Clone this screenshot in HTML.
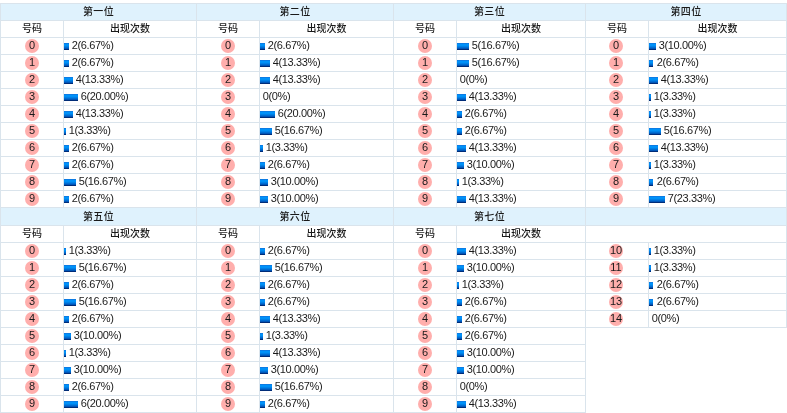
<!DOCTYPE html>
<html lang="zh-CN">
<head>
<meta charset="utf-8">
<title>号码出现次数统计</title>
<style>
html,body{margin:0;padding:0;background:#fff;}
body{width:787px;height:413px;overflow:hidden;font-family:"Liberation Sans","Noto Sans CJK SC",sans-serif;font-size:10px;color:#1a1a1a;}
table.stat{border-collapse:separate;border-spacing:0;table-layout:fixed;width:787px;margin:3px 0 0 0;border-top:1px solid #dae4ec;border-left:1px solid #dae4ec;}
col.c1{width:63px}col.c2{width:133px}col.c4{width:134px}col.c6{width:129px}col.c8{width:138px}
td,th{box-sizing:border-box;height:17px;padding:0;border-right:1px solid #dae4ec;border-bottom:1px solid #dae4ec;font-weight:normal;white-space:nowrap;overflow:hidden;vertical-align:top;}
.c{height:16px;line-height:15px;overflow:hidden;}
tr.t th{background:#dff2fd;text-align:center;letter-spacing:0.35px;}
tr.t2 th{height:18px;}
tr.t2 .c{height:17px;line-height:17px;}
td.hn,td.hv{text-align:center;}
td.n{text-align:center;font-size:11px;}
td.v{text-align:left;font-size:11px;letter-spacing:-0.36px;}
td.v .c{line-height:14px;}
td.e{border:0;}
.b{display:block;width:14px;height:14px;line-height:12px;margin:1px auto 0;border-radius:50%;background:#ffaeac;text-align:center;}
.bar{display:inline-block;height:7px;vertical-align:-1px;background:linear-gradient(to bottom,#0c7ce4 7.14%,#0092fa 21.43%,#0090f6 35.71%,#0080e6 50.00%,#006cd2 64.29%,#0056b8 78.57%,#002c78 92.86%);}
td.s4 .b{position:relative;left:-1px;}
td.hn,td.hv,tr.t th{font-weight:500;}
</style>
</head>
<body>
<table class="stat" cellspacing="0" cellpadding="0">
<colgroup><col class="c1"><col class="c2"><col class="c1"><col class="c4"><col class="c1"><col class="c6"><col class="c1"><col class="c8"></colgroup>
<tr class="t"><th colspan="2"><div class="c">第一位</div></th><th colspan="2"><div class="c">第二位</div></th><th colspan="2"><div class="c">第三位</div></th><th colspan="2"><div class="c">第四位</div></th></tr>
<tr class="h"><td class="hn"><div class="c">号码</div></td><td class="hv"><div class="c">出现次数</div></td><td class="hn"><div class="c">号码</div></td><td class="hv"><div class="c">出现次数</div></td><td class="hn"><div class="c">号码</div></td><td class="hv"><div class="c">出现次数</div></td><td class="hn"><div class="c">号码</div></td><td class="hv"><div class="c">出现次数</div></td></tr>
<tr><td class="n"><div class="c"><span class="b">0</span></div></td><td class="v"><div class="c"><i class="bar" style="width:5px"></i> 2(6.67%)</div></td><td class="n"><div class="c"><span class="b">0</span></div></td><td class="v"><div class="c"><i class="bar" style="width:5px"></i> 2(6.67%)</div></td><td class="n"><div class="c"><span class="b">0</span></div></td><td class="v"><div class="c"><i class="bar" style="width:12px"></i> 5(16.67%)</div></td><td class="n s4"><div class="c"><span class="b">0</span></div></td><td class="v"><div class="c"><i class="bar" style="width:7px"></i> 3(10.00%)</div></td></tr>
<tr><td class="n"><div class="c"><span class="b">1</span></div></td><td class="v"><div class="c"><i class="bar" style="width:5px"></i> 2(6.67%)</div></td><td class="n"><div class="c"><span class="b">1</span></div></td><td class="v"><div class="c"><i class="bar" style="width:10px"></i> 4(13.33%)</div></td><td class="n"><div class="c"><span class="b">1</span></div></td><td class="v"><div class="c"><i class="bar" style="width:12px"></i> 5(16.67%)</div></td><td class="n s4"><div class="c"><span class="b">1</span></div></td><td class="v"><div class="c"><i class="bar" style="width:4px;margin-right:1px"></i> 2(6.67%)</div></td></tr>
<tr><td class="n"><div class="c"><span class="b">2</span></div></td><td class="v"><div class="c"><i class="bar" style="width:9px"></i> 4(13.33%)</div></td><td class="n"><div class="c"><span class="b">2</span></div></td><td class="v"><div class="c"><i class="bar" style="width:10px"></i> 4(13.33%)</div></td><td class="n"><div class="c"><span class="b">2</span></div></td><td class="v"><div class="c"><i class="bar" style="width:0"></i> 0(0%)</div></td><td class="n s4"><div class="c"><span class="b">2</span></div></td><td class="v"><div class="c"><i class="bar" style="width:9px"></i> 4(13.33%)</div></td></tr>
<tr><td class="n"><div class="c"><span class="b">3</span></div></td><td class="v"><div class="c"><i class="bar" style="width:14px"></i> 6(20.00%)</div></td><td class="n"><div class="c"><span class="b">3</span></div></td><td class="v"><div class="c"><i class="bar" style="width:0"></i> 0(0%)</div></td><td class="n"><div class="c"><span class="b">3</span></div></td><td class="v"><div class="c"><i class="bar" style="width:9px"></i> 4(13.33%)</div></td><td class="n s4"><div class="c"><span class="b">3</span></div></td><td class="v"><div class="c"><i class="bar" style="width:2px"></i> 1(3.33%)</div></td></tr>
<tr><td class="n"><div class="c"><span class="b">4</span></div></td><td class="v"><div class="c"><i class="bar" style="width:9px"></i> 4(13.33%)</div></td><td class="n"><div class="c"><span class="b">4</span></div></td><td class="v"><div class="c"><i class="bar" style="width:15px"></i> 6(20.00%)</div></td><td class="n"><div class="c"><span class="b">4</span></div></td><td class="v"><div class="c"><i class="bar" style="width:5px"></i> 2(6.67%)</div></td><td class="n s4"><div class="c"><span class="b">4</span></div></td><td class="v"><div class="c"><i class="bar" style="width:2px"></i> 1(3.33%)</div></td></tr>
<tr><td class="n"><div class="c"><span class="b">5</span></div></td><td class="v"><div class="c"><i class="bar" style="width:2px"></i> 1(3.33%)</div></td><td class="n"><div class="c"><span class="b">5</span></div></td><td class="v"><div class="c"><i class="bar" style="width:12px"></i> 5(16.67%)</div></td><td class="n"><div class="c"><span class="b">5</span></div></td><td class="v"><div class="c"><i class="bar" style="width:5px"></i> 2(6.67%)</div></td><td class="n s4"><div class="c"><span class="b">5</span></div></td><td class="v"><div class="c"><i class="bar" style="width:12px"></i> 5(16.67%)</div></td></tr>
<tr><td class="n"><div class="c"><span class="b">6</span></div></td><td class="v"><div class="c"><i class="bar" style="width:5px"></i> 2(6.67%)</div></td><td class="n"><div class="c"><span class="b">6</span></div></td><td class="v"><div class="c"><i class="bar" style="width:3px"></i> 1(3.33%)</div></td><td class="n"><div class="c"><span class="b">6</span></div></td><td class="v"><div class="c"><i class="bar" style="width:9px"></i> 4(13.33%)</div></td><td class="n s4"><div class="c"><span class="b">6</span></div></td><td class="v"><div class="c"><i class="bar" style="width:9px"></i> 4(13.33%)</div></td></tr>
<tr><td class="n"><div class="c"><span class="b">7</span></div></td><td class="v"><div class="c"><i class="bar" style="width:5px"></i> 2(6.67%)</div></td><td class="n"><div class="c"><span class="b">7</span></div></td><td class="v"><div class="c"><i class="bar" style="width:5px"></i> 2(6.67%)</div></td><td class="n"><div class="c"><span class="b">7</span></div></td><td class="v"><div class="c"><i class="bar" style="width:7px"></i> 3(10.00%)</div></td><td class="n s4"><div class="c"><span class="b">7</span></div></td><td class="v"><div class="c"><i class="bar" style="width:2px"></i> 1(3.33%)</div></td></tr>
<tr><td class="n"><div class="c"><span class="b">8</span></div></td><td class="v"><div class="c"><i class="bar" style="width:12px"></i> 5(16.67%)</div></td><td class="n"><div class="c"><span class="b">8</span></div></td><td class="v"><div class="c"><i class="bar" style="width:8px"></i> 3(10.00%)</div></td><td class="n"><div class="c"><span class="b">8</span></div></td><td class="v"><div class="c"><i class="bar" style="width:2px"></i> 1(3.33%)</div></td><td class="n s4"><div class="c"><span class="b">8</span></div></td><td class="v"><div class="c"><i class="bar" style="width:4px;margin-right:1px"></i> 2(6.67%)</div></td></tr>
<tr><td class="n"><div class="c"><span class="b">9</span></div></td><td class="v"><div class="c"><i class="bar" style="width:5px"></i> 2(6.67%)</div></td><td class="n"><div class="c"><span class="b">9</span></div></td><td class="v"><div class="c"><i class="bar" style="width:8px"></i> 3(10.00%)</div></td><td class="n"><div class="c"><span class="b">9</span></div></td><td class="v"><div class="c"><i class="bar" style="width:9px"></i> 4(13.33%)</div></td><td class="n s4"><div class="c"><span class="b">9</span></div></td><td class="v"><div class="c"><i class="bar" style="width:16px"></i> 7(23.33%)</div></td></tr>
<tr class="t t2"><th colspan="2"><div class="c">第五位</div></th><th colspan="2"><div class="c">第六位</div></th><th colspan="2"><div class="c">第七位</div></th><th colspan="2"></th></tr>
<tr class="h"><td class="hn"><div class="c">号码</div></td><td class="hv"><div class="c">出现次数</div></td><td class="hn"><div class="c">号码</div></td><td class="hv"><div class="c">出现次数</div></td><td class="hn"><div class="c">号码</div></td><td class="hv"><div class="c">出现次数</div></td><td colspan="2" class="hv"></td></tr>
<tr><td class="n"><div class="c"><span class="b">0</span></div></td><td class="v"><div class="c"><i class="bar" style="width:2px"></i> 1(3.33%)</div></td><td class="n"><div class="c"><span class="b">0</span></div></td><td class="v"><div class="c"><i class="bar" style="width:5px"></i> 2(6.67%)</div></td><td class="n"><div class="c"><span class="b">0</span></div></td><td class="v"><div class="c"><i class="bar" style="width:9px"></i> 4(13.33%)</div></td><td class="n s4"><div class="c"><span class="b">10</span></div></td><td class="v"><div class="c"><i class="bar" style="width:2px"></i> 1(3.33%)</div></td></tr>
<tr><td class="n"><div class="c"><span class="b">1</span></div></td><td class="v"><div class="c"><i class="bar" style="width:12px"></i> 5(16.67%)</div></td><td class="n"><div class="c"><span class="b">1</span></div></td><td class="v"><div class="c"><i class="bar" style="width:12px"></i> 5(16.67%)</div></td><td class="n"><div class="c"><span class="b">1</span></div></td><td class="v"><div class="c"><i class="bar" style="width:7px"></i> 3(10.00%)</div></td><td class="n s4"><div class="c"><span class="b">11</span></div></td><td class="v"><div class="c"><i class="bar" style="width:2px"></i> 1(3.33%)</div></td></tr>
<tr><td class="n"><div class="c"><span class="b">2</span></div></td><td class="v"><div class="c"><i class="bar" style="width:5px"></i> 2(6.67%)</div></td><td class="n"><div class="c"><span class="b">2</span></div></td><td class="v"><div class="c"><i class="bar" style="width:5px"></i> 2(6.67%)</div></td><td class="n"><div class="c"><span class="b">2</span></div></td><td class="v"><div class="c"><i class="bar" style="width:2px"></i> 1(3.33%)</div></td><td class="n s4"><div class="c"><span class="b">12</span></div></td><td class="v"><div class="c"><i class="bar" style="width:4px;margin-right:1px"></i> 2(6.67%)</div></td></tr>
<tr><td class="n"><div class="c"><span class="b">3</span></div></td><td class="v"><div class="c"><i class="bar" style="width:12px"></i> 5(16.67%)</div></td><td class="n"><div class="c"><span class="b">3</span></div></td><td class="v"><div class="c"><i class="bar" style="width:5px"></i> 2(6.67%)</div></td><td class="n"><div class="c"><span class="b">3</span></div></td><td class="v"><div class="c"><i class="bar" style="width:5px"></i> 2(6.67%)</div></td><td class="n s4"><div class="c"><span class="b">13</span></div></td><td class="v"><div class="c"><i class="bar" style="width:4px;margin-right:1px"></i> 2(6.67%)</div></td></tr>
<tr><td class="n"><div class="c"><span class="b">4</span></div></td><td class="v"><div class="c"><i class="bar" style="width:5px"></i> 2(6.67%)</div></td><td class="n"><div class="c"><span class="b">4</span></div></td><td class="v"><div class="c"><i class="bar" style="width:10px"></i> 4(13.33%)</div></td><td class="n"><div class="c"><span class="b">4</span></div></td><td class="v"><div class="c"><i class="bar" style="width:5px"></i> 2(6.67%)</div></td><td class="n s4"><div class="c"><span class="b">14</span></div></td><td class="v"><div class="c"><i class="bar" style="width:0"></i> 0(0%)</div></td></tr>
<tr><td class="n"><div class="c"><span class="b">5</span></div></td><td class="v"><div class="c"><i class="bar" style="width:7px"></i> 3(10.00%)</div></td><td class="n"><div class="c"><span class="b">5</span></div></td><td class="v"><div class="c"><i class="bar" style="width:3px"></i> 1(3.33%)</div></td><td class="n"><div class="c"><span class="b">5</span></div></td><td class="v"><div class="c"><i class="bar" style="width:5px"></i> 2(6.67%)</div></td><td colspan="2" class="e"></td></tr>
<tr><td class="n"><div class="c"><span class="b">6</span></div></td><td class="v"><div class="c"><i class="bar" style="width:2px"></i> 1(3.33%)</div></td><td class="n"><div class="c"><span class="b">6</span></div></td><td class="v"><div class="c"><i class="bar" style="width:10px"></i> 4(13.33%)</div></td><td class="n"><div class="c"><span class="b">6</span></div></td><td class="v"><div class="c"><i class="bar" style="width:7px"></i> 3(10.00%)</div></td><td colspan="2" class="e"></td></tr>
<tr><td class="n"><div class="c"><span class="b">7</span></div></td><td class="v"><div class="c"><i class="bar" style="width:7px"></i> 3(10.00%)</div></td><td class="n"><div class="c"><span class="b">7</span></div></td><td class="v"><div class="c"><i class="bar" style="width:8px"></i> 3(10.00%)</div></td><td class="n"><div class="c"><span class="b">7</span></div></td><td class="v"><div class="c"><i class="bar" style="width:7px"></i> 3(10.00%)</div></td><td colspan="2" class="e"></td></tr>
<tr><td class="n"><div class="c"><span class="b">8</span></div></td><td class="v"><div class="c"><i class="bar" style="width:5px"></i> 2(6.67%)</div></td><td class="n"><div class="c"><span class="b">8</span></div></td><td class="v"><div class="c"><i class="bar" style="width:12px"></i> 5(16.67%)</div></td><td class="n"><div class="c"><span class="b">8</span></div></td><td class="v"><div class="c"><i class="bar" style="width:0"></i> 0(0%)</div></td><td colspan="2" class="e"></td></tr>
<tr><td class="n"><div class="c"><span class="b">9</span></div></td><td class="v"><div class="c"><i class="bar" style="width:14px"></i> 6(20.00%)</div></td><td class="n"><div class="c"><span class="b">9</span></div></td><td class="v"><div class="c"><i class="bar" style="width:5px"></i> 2(6.67%)</div></td><td class="n"><div class="c"><span class="b">9</span></div></td><td class="v"><div class="c"><i class="bar" style="width:9px"></i> 4(13.33%)</div></td><td colspan="2" class="e"></td></tr>
</table>
</body>
</html>
